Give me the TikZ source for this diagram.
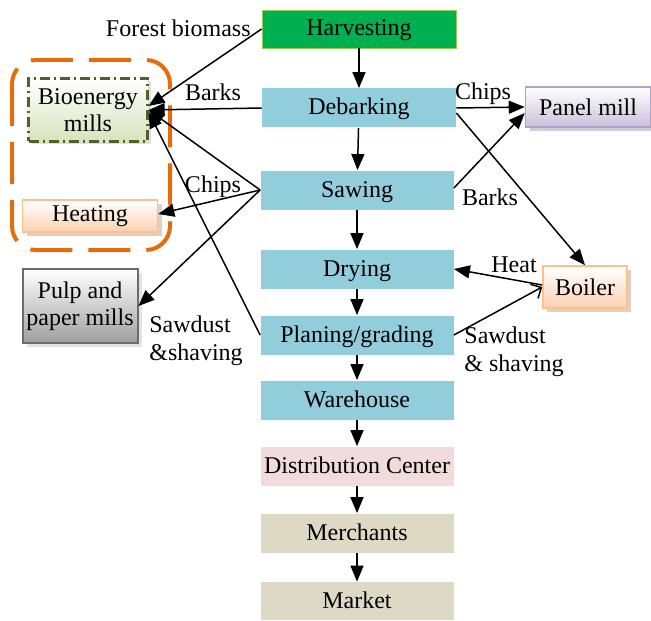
\documentclass[tikz,border=0pt]{standalone}
\usepackage{fontspec}
\setmainfont{Liberation Serif}
\usetikzlibrary{arrows.meta,shadows}

\definecolor{harvgreen}{HTML}{00B050}
\definecolor{harvedge}{HTML}{92D050}
\definecolor{procblue}{HTML}{92CDDC}
\definecolor{distpink}{HTML}{F2DCDB}
\definecolor{marktan}{HTML}{DDD9C4}
\definecolor{groupor}{HTML}{E46C0A}
\definecolor{biogreen}{HTML}{D7E4BD}
\definecolor{bioedge}{HTML}{4F6228}
\definecolor{heatfill}{HTML}{FCD0B0}
\definecolor{heatedge}{HTML}{FAC090}
\definecolor{heatshadow}{HTML}{C8A080}
\definecolor{panelfill}{HTML}{CCC0DA}
\definecolor{paneledge}{HTML}{B3A2C7}
\definecolor{panelshadow}{HTML}{A496B4}

\tikzset{
  proc/.style={rectangle, inner sep=0pt, minimum width=96.5pt, minimum height=19.5pt, fill=procblue,
    text height=8.5pt, text depth=1.5pt},
  sidebox/.style={rectangle, inner sep=0pt, align=center, font=\fontsize{12}{13.5}\selectfont},
  flow/.style={-{Triangle[length=8pt,width=6.5pt]}, line width=0.75pt},
  openflow/.style={-{Straight Barb[length=4pt,width=8pt]}, line width=0.75pt},
  lbl/.style={inner sep=0pt, align=left, font=\fontsize{12}{14}\selectfont}
}

\begin{document}
\begin{tikzpicture}[x=0.5pt,y=-0.5pt,font=\fontsize{12}{14}\selectfont]
\useasboundingbox (0,0) rectangle (651,620);

% main chain
\node[proc, fill=harvgreen, draw=harvedge, minimum width=97pt, minimum height=19pt] (harvest) at (359,29) {Harvesting};
\node[proc, minimum width=97pt] (debark) at (359,108) {Debarking};
\node[proc] (sawing) at (357,190) {Sawing};
\node[proc] (drying) at (357,269) {Drying};
\node[proc] (planing) at (357,335) {Planing/grading};
\node[proc] (warehouse) at (357,400) {Warehouse};
\node[proc, fill=distpink] (distrib) at (357,466) {Distribution Center};
\node[proc, fill=marktan] (merchants) at (357,533) {Merchants};
\node[proc, fill=marktan, minimum height=19pt] (market) at (357,601) {Market};

\foreach \a/\b in {harvest/debark, debark/sawing, sawing/drying, drying/planing,
  planing/warehouse, warehouse/distrib, distrib/merchants, merchants/market}
  \draw[flow] (\a) -- (\b);

% by-products
\draw[groupor, line width=2pt, rounded corners=12pt, dash pattern=on 21pt off 8pt] (12,60) rectangle (170,250);
\node[sidebox, draw=bioedge, line width=1.1pt, dash pattern=on 5pt off 2pt on 1pt off 2pt,
  top color=white, bottom color=biogreen,
  drop shadow={shadow xshift=1.5pt, shadow yshift=-1.5pt, fill=gray!50},
  minimum width=59.5pt, minimum height=31.5pt] (bio) at (88,110) {Bioenergy\\mills};
\node[sidebox, draw=heatedge, line width=0.8pt, top color=white, bottom color=heatfill,
  drop shadow={shadow xshift=2pt, shadow yshift=-2pt, fill=heatshadow},
  minimum width=67.5pt, minimum height=16pt] (heating) at (90,216) {Heating};
\node[sidebox, draw=gray!85!black, line width=1pt, top color=white, bottom color=gray!75,
  drop shadow={shadow xshift=2pt, shadow yshift=-2pt, fill=gray!45},
  minimum width=57.5pt, minimum height=37pt] (pulp) at (80,306) {Pulp and\\paper mills};
\node[sidebox, draw=paneledge, line width=0.8pt, top color=white, bottom color=panelfill,
  drop shadow={shadow xshift=2pt, shadow yshift=-2pt, fill=panelshadow},
  minimum width=62.5pt, minimum height=20pt] (panel) at (588,107) {Panel mill};
\node[sidebox, draw=heatedge, line width=0.8pt, top color=white, bottom color=heatfill,
  drop shadow={shadow xshift=2pt, shadow yshift=-2pt, fill=heatshadow},
  minimum width=42pt, minimum height=21pt] (boiler) at (585,287) {Boiler};

\draw[flow] (harvest.west) -- ([yshift=2pt]bio.east);
\draw[flow] (debark.west) -- (bio.east);
\draw[flow] (sawing.west) -- (bio.east);
\draw[flow] (sawing.west) -- ([yshift=1pt]heating.east);
\draw[flow] (sawing.west) -- (pulp.east);
\draw[flow] (planing.west) -- ([yshift=-1pt]bio.east);
\draw[flow] (debark.east) -- (panel.west);
\draw[flow] ([yshift=-2.5pt]debark.east) -- (boiler.north);
\draw[flow] ([yshift=1pt]sawing.east) -- ([yshift=-3pt]panel.west);
\draw[flow] ([yshift=1pt]boiler.west) -- (drying.east);
\draw[openflow] (planing.east) -- (boiler.west);

% labels
\node[lbl, anchor=east] (lforest) at (251,28) {Forest biomass};
\node[lbl] (lbarksl) at (213,92) {Barks};
\node[lbl] (lchipsl) at (213,187) {Chips};
\node[lbl, anchor=west] (lsawl) at (149,341) {Sawdust\\\&shaving};
\node[lbl] (lchipsr) at (483,94) {Chips};
\node[lbl] (lbarksr) at (490,197) {Barks};
\node[lbl] (lheat) at (514,265) {Heat};
\node[lbl, anchor=west] (lsawr) at (464,352) {Sawdust\\\& shaving};
\end{tikzpicture}
\end{document}
